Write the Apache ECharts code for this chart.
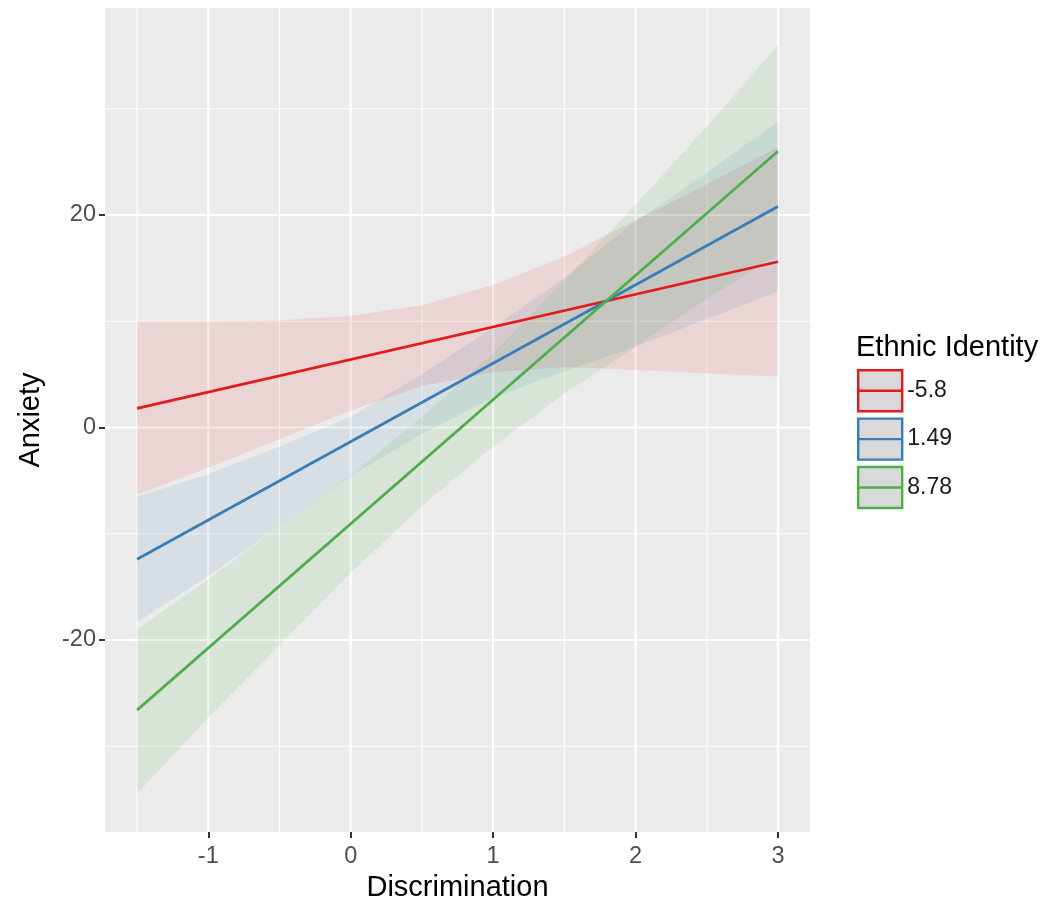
<!DOCTYPE html>
<html><head><meta charset="utf-8">
<script src="https://cdn.jsdelivr.net/npm/echarts@6/dist/echarts.min.js"></script>
<style>html,body{margin:0;padding:0;background:#fff}#c{width:1047px;height:909px}</style>
</head><body><div id="c"></div>
<script>
// ---- data ----
const groups = ['-5.8', '1.49', '8.78'];
const colors = ['#E41A1C', '#377EB8', '#4DAF4A'];

const lineX = [-1.5, 3];
const redLine = [1.8, 15.6];
const blueLine = [-12.4, 20.8];
const greenLine = [-26.6, 26.0];

const bandX = [-1.5, -1, -0.5, 0, 0.5, 1, 1.5, 2, 2.5, 3];
const redUpper = [10.0, 10.0, 10.1, 10.5, 11.5, 13.4, 16.1, 19.5, 22.9, 26.4];
const redLower = [-6.3, -3.8, -1.1, 1.6, 3.9, 5.2, 5.7, 5.4, 5.1, 4.8];
const blueUpper = [-6.5, -4.4, -1.8, 1.0, 5.0, 9.4, 14.1, 19.4, 24.0, 28.8];
const blueLower = [-18.3, -14.0, -9.3, -4.6, -0.6, 2.8, 5.3, 7.6, 10.2, 12.8];
const greenUpper = [-19.0, -14.3, -9.3, -4.5, 1.0, 7.0, 13.8, 21.0, 28.3, 36.0];
const greenLower = [-34.5, -27.3, -20.5, -13.7, -7.4, -1.8, 3.2, 7.6, 12.1, 16.3];

const xTicks = [-1, 0, 1, 2, 3];
const xMinor = [-1.5, -0.5, 0.5, 1.5, 2.5];
const yTicks = [-20, 0, 20];
const yMinor = [-30, -10, 10, 30];

const xMin = -1.725, xMax = 3.225;
const yMin = -38.07, yMax = 39.48;

// ---- chart ----
const FONT = "'Liberation Sans', Arial, Helvetica, sans-serif";
function rgba(hex, a) {
  const n = parseInt(hex.slice(1), 16);
  return `rgba(${(n >> 16) & 255},${(n >> 8) & 255},${n & 255},${a})`;
}
function gridSeries(vals, vertical, width) {
  return {
    type: 'custom', silent: true, z: 1,
    data: vals.map(v => vertical ? [v, 0] : [0, v]),
    encode: { x: 0, y: 1 },
    renderItem: (p, api) => {
      const v = api.value(vertical ? 0 : 1);
      const a = vertical ? api.coord([v, yMin]) : api.coord([xMin, v]);
      const b = vertical ? api.coord([v, yMax]) : api.coord([xMax, v]);
      return { type: 'line', shape: { x1: a[0], y1: a[1], x2: b[0], y2: b[1] },
               style: { stroke: '#ffffff', lineWidth: width } };
    }
  };
}
function bandSeries(i, upper, lower) {
  return {
    type: 'custom', name: groups[i], silent: true, z: 2,
    itemStyle: { color: colors[i] },
    data: bandX.map((x, k) => [x, lower[k], upper[k]]),
    encode: { x: 0, y: [1, 2] },
    renderItem: (params, api) => {
      if (params.dataIndex !== 0) return null;
      const pts = [];
      for (let k = 0; k < bandX.length; k++) pts.push(api.coord([bandX[k], upper[k]]));
      for (let k = bandX.length - 1; k >= 0; k--) pts.push(api.coord([bandX[k], lower[k]]));
      return { type: 'polygon', shape: { points: pts }, style: { fill: rgba(colors[i], 0.11) } };
    }
  };
}
function lineSeries(i, vals) {
  return {
    type: 'line', name: groups[i], z: 3, symbol: 'none', silent: true,
    data: lineX.map((x, k) => [x, vals[k]]),
    lineStyle: { color: colors[i], width: 2.7 },
    itemStyle: { color: colors[i] }
  };
}

const chart = echarts.init(document.getElementById('c'), null, { renderer: 'canvas' });
chart.setOption({
  animation: false,
  backgroundColor: '#ffffff',
  textStyle: { fontFamily: FONT },
  title: {
    text: 'Ethnic Identity', left: 856, top: 333, padding: 0,
    textStyle: { fontFamily: FONT, fontSize: 29, fontWeight: 'normal', color: '#000' }
  },
  legend: {
    orient: 'vertical', left: 857, top: 369, padding: 0, itemGap: 5,
    itemWidth: 44, itemHeight: 41,
    icon: 'path://M0,0L44,0L44,41L0,41Z M0,20.5L44,20.5',
    textStyle: { fontFamily: FONT, fontSize: 23, color: '#1a1a1a' },
    selectedMode: false,
    data: groups.map((g, i) => ({
      name: g,
      itemStyle: { color: '#D9D9D9', borderColor: colors[i], borderWidth: 2.4 }
    }))
  },
  grid: {
    left: 105, right: 237, top: 8, bottom: 77,
    show: true, backgroundColor: '#EBEBEB', borderWidth: 0
  },
  xAxis: {
    type: 'value', min: xMin, max: xMax,
    name: 'Discrimination', nameLocation: 'middle', nameGap: 40,
    nameTextStyle: { fontFamily: FONT, fontSize: 29, color: '#000' },
    axisLine: { show: false, onZero: false },
    axisTick: { show: true, customValues: xTicks, length: 6, lineStyle: { color: '#333333', width: 2 } },
    axisLabel: { customValues: xTicks, fontFamily: FONT, fontSize: 23.5, color: '#4D4D4D', margin: 13 },
    splitLine: { show: false }
  },
  yAxis: {
    type: 'value', min: yMin, max: yMax,
    name: 'Anxiety', nameLocation: 'middle', nameGap: 60,
    nameTextStyle: { fontFamily: FONT, fontSize: 29, color: '#000' },
    axisLine: { show: false, onZero: false },
    axisTick: { show: true, customValues: yTicks, length: 6, lineStyle: { color: '#333333', width: 2 } },
    axisLabel: { customValues: yTicks, fontFamily: FONT, fontSize: 23.5, color: '#4D4D4D', margin: 9 },
    splitLine: { show: false }
  },
  series: [
    bandSeries(0, redUpper, redLower),
    bandSeries(1, blueUpper, blueLower),
    bandSeries(2, greenUpper, greenLower),
    gridSeries(xMinor, true, 1.1),
    gridSeries(yMinor, false, 1.1),
    gridSeries(xTicks, true, 2.2),
    gridSeries(yTicks, false, 2.2),
    lineSeries(0, redLine),
    lineSeries(1, blueLine),
    lineSeries(2, greenLine)
  ]
});
</script></body></html>
